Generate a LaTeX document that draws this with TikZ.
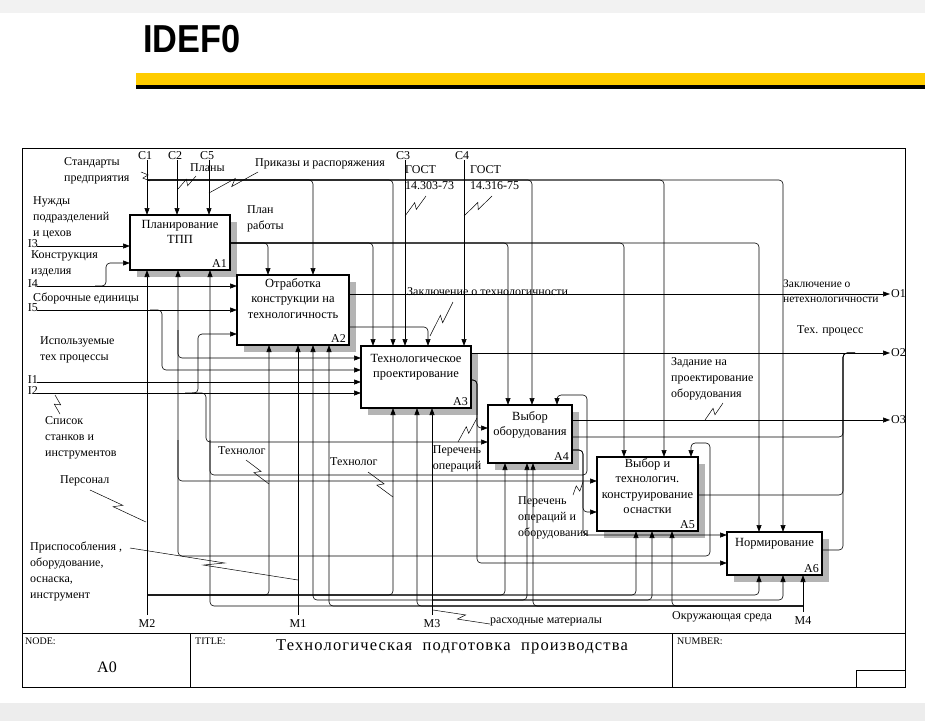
\documentclass[tikz,border=0pt]{standalone}
\usepackage{fontspec}
\setmainfont{Liberation Serif}
\newfontfamily\headfont{Liberation Sans}
\usetikzlibrary{arrows.meta,calc,shadows}
\definecolor{Bar}{HTML}{FFCC00}
\definecolor{Shade}{HTML}{B4B4B4}
\definecolor{Band}{HTML}{EDEDED}
\newcommand\lbl{\fontsize{12}{16}\selectfont}
\newcommand\boxf{\fontsize{12.5}{15.5}\selectfont}
\newcommand\squig[2]{\draw[tie] #1 -- ($#1!0.56!#2!3pt!90:#2$) -- ($#1!0.44!#2!3pt!-90:#2$) -- #2;}

\begin{document}
\begin{tikzpicture}[x=1pt,y=-1pt,
  every node/.style={font=\lbl,inner sep=0pt},
  flow/.style={line width=.6pt,rounded corners=4pt,-{Triangle[length=7pt,width=5pt]}},
  wire/.style={line width=.6pt,rounded corners=4pt},
  tie/.style={line width=.5pt},
  act/.style={draw,line width=1.3pt,fill=white,outer sep=0pt,
    general shadow={fill=Shade,shadow xshift=7pt,shadow yshift=-7pt}}]
\useasboundingbox (0,0) rectangle (925,721);
\fill[black!5] (0,0) rectangle (925,13);
\fill[Band] (0,703) rectangle (925,721);
% header
\node[anchor=west,font=\headfont\bfseries\fontsize{39}{41}\selectfont,xscale=.88] (head) at (143,39) {IDEF0};
\fill[Bar] (136,73) rectangle (925,85);
\fill[black] (136,85) rectangle (925,89);
% frame
\draw[line width=.9pt] (22,148) rectangle (905,687);
\draw[line width=.9pt] (22,633) -- (905,633) (190,633) -- (190,687) (672,633) -- (672,687);
\draw[line width=.6pt] (856,670) rectangle (905,687);
% boxes
\foreach \n/\id/\x/\y/\w/\h/\d/\t in {
  a1/A1/130/215/100/55/5/{Планирование\\ТПП},
  a2/A2/237/275/112/70/3/{Отработка\\конструкции на\\технологичность},
  a3/A3/361/346/110/62/8/{Технологическое\\проектирование},
  a4/A4/488/405/84/58/6/{Выбор\\оборудования},
  a5/A5/597/457/101/74/1/{Выбор и\\технологич.\\конструирование\\оснастки},
  a6/A6/727/532/95/43/6/{Нормирование}}
{
  \node[act,anchor=north west,minimum width=\w pt,minimum height=\h pt] (\n) at (\x,\y) {};
  \node[anchor=north,align=center,font=\boxf] at ($(\n.north)+(0,\d)$) {\t};
  \node[anchor=south east] at ($(\n.south east)+(-3,-2)$) {\id};
}
% boundary points
\coordinate (c1) at (147,160); \coordinate (c2) at (177,160); \coordinate (c5) at (209,160);
\coordinate (c3) at (405,160); \coordinate (c4) at (464,160);
\coordinate (i3) at (37,246); \coordinate (i4) at (37,286); \coordinate (i5) at (37,310);
\coordinate (i1) at (37,382); \coordinate (i2) at (37,393);
\coordinate (o1) at (890,294); \coordinate (o2) at (890,353); \coordinate (o3) at (890,420);
\coordinate (m2) at (147,615); \coordinate (m1) at (298,615); \coordinate (m3) at (432,615);
\coordinate (m4) at (803,612);
% controls
\draw[flow] (c1) -- (c1 |- a1.north);
\draw[flow] (c2) -- (c2 |- a1.north);
\draw[flow] (c5) -- (c5 |- a1.north);
\draw[flow] (c3) -- (c3 |- a3.north);
\draw[flow] (c4) -- (c4 |- a3.north);
\foreach \b/\x in {a2/313,a3/393,a4/532,a5/664,a6/783}
  \draw[flow] (147,180) -| (\b.north -| \x,0);
\foreach \b/\x in {a2/268,a3/373,a4/508,a5/624,a6/759}
  \draw[flow] (a1.east |- 0,243) -| (\b.north -| \x,0);
% outputs
\draw[flow] (a2.east |- o1) -- (o1);
\draw[flow] (a2.east |- 0,327) -| (a3.north -| 428,0);
\draw[flow] (a3.east |- o2) -- (o2);
\draw[flow] (a3.east |- 0,380) -- (477,380) |- (a4.west |- 0,428);
\draw[flow] (a3.east |- 0,380) -- (477,380) |- (a6.west |- 0,563);
\draw[flow] (a4.east |- o3) -- (o3);
\draw[wire] (a4.east |- 0,437) -| (843,353) -- (855,353);
\draw[flow] (a4.east |- 0,450) -- (583,450) |- (a5.west |- 0,512);
\draw[flow] (a4.east |- 0,450) -- (583,450) |- (a6.west |- 0,535);
\draw[wire] (a5.east |- 0,495) -| (843,353) -- (855,353);
\draw[wire] (a6.east |- 0,550) -| (843,353) -- (855,353);
% inputs
\draw[flow] (i3) -- (i3 -| a1.west);
\draw[flow] (i4) -- (i4 -| a2.west);
\draw[flow] (95,286) -- (106,286) |- (a1.west |- 0,263);
\draw[flow] (i5) -- (i5 -| a2.west);
\draw[flow] (150,310) -- (162,310) |- (a3.west |- 0,370);
\draw[flow] (i1) -- (i1 -| a3.west);
\draw[flow] (i2) -- (i2 -| a3.west);
\draw[flow] (185,393) -- (198,393) |- (a2.west |- 0,334);
\draw[flow] (192,393) -- (206,393) |- (a4.west |- 0,442);
% mechanisms
\draw[flow] (m2) -- (m2 |- a1.south);
\foreach \b/\x in {a2/269,a3/393,a4/505,a5/636,a6/759}
  \draw[flow] (147,595) -| (\b.south -| \x,0);
\draw[flow] (m1) -- (m1 |- a2.south);
\draw[flow] (298,556) -| (a1.south -| 178,0);
\draw[flow] (298,556) -- (710,556) |- (691,443) -- (a5.north -| 691,0);
\draw[flow] (178,330) |- (a3.west |- 0,358);
\draw[flow] (178,440) |- (a5.west |- 0,481);
\draw[flow] (210,440) |- (587,475) |- (557,395) -- (a4.north -| 557,0);
\draw[flow] (m3) -- (m3 |- a3.south);
\foreach \b/\x in {a2/313,a4/527,a5/652,a6/783}
  \draw[flow] (432,600) -| (\b.south -| \x,0);
\draw[flow] (m4) -- (m4 |- a6.south);
\foreach \b/\x in {a1/210,a2/329,a3/417,a4/533,a5/672}
  \draw[flow] (803,606) -| (\b.south -| \x,0);
% ICOM codes
\foreach \p/\t in {c1/C1,c2/C2,c5/C5,c3/C3,c4/C4}
  \node[anchor=south] at ($(\p)+(-2,0)$) {\t};
\foreach \p/\t in {i3/I3,i4/I4,i5/I5,i1/I1,i2/I2}
  \node[anchor=east] at ($(\p)+(1,-2)$) {\t};
\foreach \p/\t in {o1/O1,o2/O2,o3/O3}
  \node[anchor=west] at ($(\p)+(1,0)$) {\t};
\foreach \p/\t in {m2/M2,m1/M1,m3/M3,m4/M4}
  \node[anchor=north] at ($(\p)+(0,4)$) {\t};
% arrow labels
\node[anchor=west,align=left] (lstd) at (64,171) {Стандарты\\предприятия};
\node[anchor=west,align=left] (lneed) at (33,218) {Нужды\\подразделений\\и цехов};
\node[anchor=west,align=left] (lcon) at (31,264) {Конструкция\\изделия};
\node[anchor=west] (lasm) at (33,298) {Сборочные единицы};
\node[anchor=west,align=left] (lproc) at (40,350) {Используемые\\тех процессы};
\node[anchor=west,align=left] (llist) at (45,438) {Список\\станков и\\инструментов};
\node[anchor=west] (lstaff) at (60,481) {Персонал};
\node[anchor=west,align=left] (ltool) at (30,571) {Приспособления ,\\оборудование,\\оснаска,\\инструмент};
\node[anchor=west] (lplan) at (190,168) {Планы};
\node[anchor=west] (lord) at (255,164) {Приказы и распоряжения};
\node[anchor=west,align=left] (lwork) at (247,219) {План\\работы};
\node[anchor=west,align=left] (lg1) at (405,178) {ГОСТ\\14.303-73};
\node[anchor=west,align=left] (lg2) at (470,178) {ГОСТ\\14.316-75};
\node[anchor=west] (lok) at (407,292) {Заключение о технологичности};
\node[anchor=west,align=left,font=\fontsize{11.5}{15}\selectfont] (lbad) at (783,291) {Заключение о\\нетехнологичности};
\node[anchor=west] (ltech) at (797,331) {Тех. процесс};
\node[anchor=west,align=left] (ltask) at (671,379) {Задание на\\проектирование\\оборудования};
\node[align=center] (lops) at (457,459) {Перечень\\операций};
\node[anchor=west] (ltl1) at (218,451) {Технолог};
\node[anchor=west] (ltl2) at (330,462) {Технолог};
\node[anchor=west,align=left] (lopq) at (518,518) {Перечень\\операций и\\оборудования};
\node[anchor=west] (lmat) at (490,622) {расходные материалы};
\node[anchor=west] (lenv) at (672,617) {Окружающая среда};
% squiggles
\squig{(141,172)}{(150,181)}
\squig{(196,176)}{(178,189)}
\squig{(209,193)}{(258,172)}
\squig{(426,196)}{(405,216)}
\squig{(492,196)}{(464,216)}
\squig{(453,302)}{(430,336)}
\squig{(723,403)}{(705,420)}
\squig{(458,442)}{(477,418)}
\squig{(573,495)}{(583,482)}
\squig{(246,460)}{(269,484)}
\squig{(368,472)}{(393,497)}
\squig{(55,395)}{(60,414)}
\squig{(90,490)}{(146,522)}
\squig{(130,548)}{(298,580)}
\squig{(433,610)}{(490,624)}
% title block
\node[anchor=north west,font=\fontsize{10}{11}\selectfont] (tnode) at (25,638) {NODE:};
\node[font=\fontsize{16}{18}\selectfont] (tnum) at (107,667) {A0};
\node[anchor=north west,font=\fontsize{10}{11}\selectfont] (ttitle) at (195,638) {TITLE:};
\node[font=\fontsize{16.5}{18}\selectfont\addfontfeature{LetterSpace=7}] (tname) at (452,647) {Технологическая\ \ подготовка\ \ производства};
\node[anchor=north west,font=\fontsize{10}{11}\selectfont] (tnumber) at (677,638) {NUMBER:};
\end{tikzpicture}
\end{document}
